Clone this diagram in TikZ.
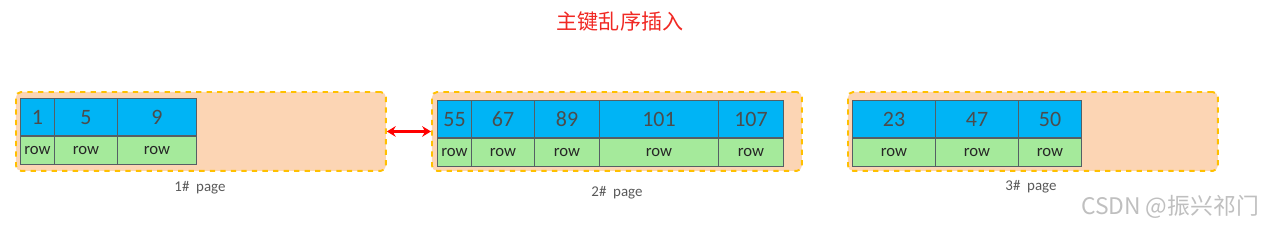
\documentclass[tikz,border=0pt]{standalone}
\usepackage{fontspec}
\setmainfont{Carlito}
\newfontfamily\cjk{Noto Sans CJK SC}
\usetikzlibrary{arrows.meta}
\definecolor{keyblue}{RGB}{0,180,245}
\definecolor{rowgreen}{RGB}{165,234,155}
\definecolor{pagefill}{RGB}{252,213,180}
\definecolor{pageline}{RGB}{255,192,0}
\definecolor{cellline}{RGB}{85,95,100}
\definecolor{titlered}{RGB}{240,40,35}

\tikzset{
  page/.style={draw=pageline, fill=pagefill, dashed, line width=1.1pt,
    rounded corners=3pt, anchor=north west, inner sep=0pt,
    minimum width=7.4cm, minimum height=1.58cm},
  keycell/.style={draw=cellline, fill=keyblue, line width=0.6pt, inner sep=0pt,
    anchor=north west, minimum height=0.74cm, text=black!70, font=\fontsize{12.5}{13}\selectfont},
  rowcell/.style={draw=cellline, fill=rowgreen, line width=0.6pt, inner sep=0pt,
    anchor=north, minimum height=0.56cm, text=black!85, font=\fontsize{9.5}{10}\selectfont},
  pagelabel/.style={text=black!65, font=\fontsize{8.5}{9}\selectfont},
  link/.style={draw=red, line width=1.4pt, {Stealth[length=5pt,width=6pt]}-{Stealth[length=5pt,width=6pt]}},
  wmark/.style={text=black!25, font=\cjk\fontsize{13}{14}\selectfont}
}

\begin{document}
\begin{tikzpicture}[x=0.02cm,y=-0.02cm]
  \useasboundingbox (0,0) rectangle (1270,227);
  \node[text=titlered, font=\cjk\fontsize{12}{13}\selectfont] (title) at (620,21) {主键乱序插入};

  % pages
  \node[page] (p1) at (15,91) {};
  \node[page] (p2) at (431,91) {};
  \node[page] (p3) at (847,91) {};

  % page 1 records
  \foreach \l/\r/\k [count=\i] in {20/54/1,54/117/5,117/196/9}{
    \node[keycell, minimum width={(\r-\l)*0.02cm}] (ka\i) at (\l,98) {\k};
    \node[rowcell, minimum width={(\r-\l)*0.02cm}] (ra\i) at (ka\i.south) {row};
  }
  % page 2 records
  \foreach \l/\r/\k [count=\i] in {437/471/55,471/534/67,534/599/89,599/718/101,718/783/107}{
    \node[keycell, minimum width={(\r-\l)*0.02cm}] (kb\i) at (\l,100) {\k};
    \node[rowcell, minimum width={(\r-\l)*0.02cm}] (rb\i) at (kb\i.south) {row};
  }
  % page 3 records
  \foreach \l/\r/\k [count=\i] in {852/935/23,935/1018/47,1018/1081/50}{
    \node[keycell, minimum width={(\r-\l)*0.02cm}] (kc\i) at (\l,100) {\k};
    \node[rowcell, minimum width={(\r-\l)*0.02cm}] (rc\i) at (kc\i.south) {row};
  }

  \draw[link] (p1.east) -- (p2.west);

  \node[pagelabel] (l1) at (200,188) {1\#\ \ page};
  \node[pagelabel] (l2) at (617,193) {2\#\ \ page};
  \node[pagelabel] (l3) at (1031,187) {3\#\ \ page};

  \node[wmark] (wm) at (1170,207) {CSDN @振兴祁门};
\end{tikzpicture}
\end{document}
